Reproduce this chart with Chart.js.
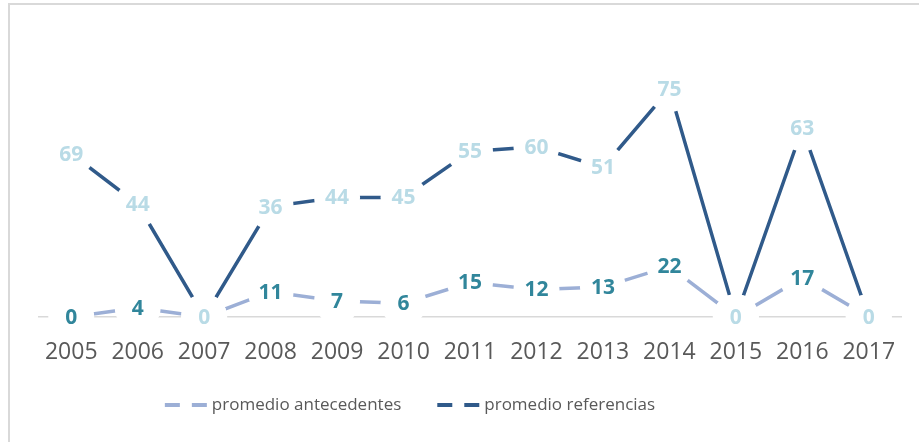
<!DOCTYPE html>
<html>
<head>
<meta charset="utf-8">
<script src="https://cdn.jsdelivr.net/npm/chart.js@4.4.1/dist/chart.umd.min.js"></script>
<style>
  html, body { margin: 0; padding: 0; background: #fff; }
  #wrap { position: relative; width: 919px; height: 442px; overflow: hidden; }
  #frame { position: absolute; left: 8px; top: 3px; width: 950px; height: 470px;
           border-top: 2px solid #d9d9d9; border-left: 2px solid #d9d9d9; }
  canvas { position: absolute; left: 0; top: 0; }
</style>
</head>
<body>
<div id="wrap">
  <div id="frame"></div>
  <canvas id="chart" width="919" height="442"></canvas>
</div>
<script>
const years = ['2005', '2006', '2007', '2008', '2009', '2010', '2011', '2012', '2013', '2014', '2015', '2016', '2017'];

// promedio antecedentes (plotted and printed values)
const antecedentes = [0, 4, 0, 11, 7, 6, 15, 12, 13, 22, 0, 17, 0];

// promedio referencias: heights as drawn in the picture, and the numbers printed on the points
const referencias = [71, 49, 0, 48, 52, 52, 72, 74, 65, 99, 0, 82, 0];
const referenciasLabels = [69, 44, 0, 36, 44, 45, 55, 60, 51, 75, 0, 63, 0];

const legendCenterX = 410;
const legendY = 405;

// white halo behind each point, then the value on top
const pointLabels = {
  id: 'pointLabels',
  afterDatasetsDraw(chart) {
    const ctx = chart.ctx;
    chart.data.datasets.forEach((ds, i) => {
      const meta = chart.getDatasetMeta(i);
      meta.data.forEach((pt, j) => {
        ctx.save();
        ctx.fillStyle = '#ffffff';
        ctx.beginPath();
        ctx.arc(pt.x, pt.y, 23, 0, Math.PI * 2);
        ctx.fill();
        ctx.font = 'bold 21px "Open Sans"';
        ctx.fillStyle = ds.labelColor;
        ctx.textAlign = 'center';
        ctx.textBaseline = 'middle';
        ctx.fillText(String(ds.pointLabels[j]), pt.x, pt.y + 1);
        ctx.restore();
      });
    });
  }
};

// legend with dashed samples, like the original
const dashLegend = {
  id: 'dashLegend',
  afterDraw(chart) {
    const ctx = chart.ctx;
    ctx.save();
    ctx.font = '17px "Open Sans"';
    const sample = 44, gap = 3, space = 36;
    const items = chart.data.datasets.map(ds => ({
      label: ds.label, color: ds.borderColor, w: ctx.measureText(ds.label).width
    }));
    const total = items.reduce((s, it) => s + sample + gap + it.w, 0) + space * (items.length - 1);
    let x = legendCenterX - total / 2;
    items.forEach(it => {
      ctx.strokeStyle = it.color;
      ctx.lineWidth = 4;
      ctx.setLineDash([15, 12]);
      ctx.beginPath();
      ctx.moveTo(x, legendY);
      ctx.lineTo(x + sample, legendY);
      ctx.stroke();
      ctx.setLineDash([]);
      ctx.fillStyle = '#595959';
      ctx.textAlign = 'left';
      ctx.textBaseline = 'middle';
      ctx.fillText(it.label, x + sample + gap, legendY);
      x += sample + gap + it.w + space;
    });
    ctx.restore();
  }
};

new Chart(document.getElementById('chart'), {
  type: 'line',
  data: {
    labels: years,
    datasets: [
      {
        label: 'promedio antecedentes',
        data: antecedentes,
        pointLabels: antecedentes,
        labelColor: '#31869b',
        borderColor: '#9cafd6',
        borderWidth: 3.5,
        pointRadius: 0,
        tension: 0
      },
      {
        label: 'promedio referencias',
        data: referencias,
        pointLabels: referenciasLabels,
        labelColor: '#b9dbe6',
        borderColor: '#305a8a',
        borderWidth: 3.5,
        pointRadius: 0,
        tension: 0
      }
    ]
  },
  options: {
    responsive: false,
    animation: false,
    layout: { padding: { left: 38, right: 17, top: 18, bottom: 55 } },
    plugins: {
      legend: { display: false },
      tooltip: { enabled: false }
    },
    scales: {
      x: {
        offset: true,
        grid: { display: false, drawTicks: false },
        border: { display: false },
        ticks: {
          color: '#595959',
          font: { family: 'Open Sans', size: 23 },
          padding: 22,
          autoSkip: false,
          maxRotation: 0
        },
        afterFit(scale) { scale.height = 70; }
      },
      y: {
        min: 0,
        max: 130,
        ticks: { display: false, stepSize: 10 },
        grid: {
          drawTicks: false,
          color: c => (c.tick && c.tick.value === 0 ? '#d9d9d9' : 'rgba(0,0,0,0)'),
          lineWidth: 1.5
        },
        border: { display: false }
      }
    }
  },
  plugins: [pointLabels, dashLegend]
});
</script>
</body>
</html>
